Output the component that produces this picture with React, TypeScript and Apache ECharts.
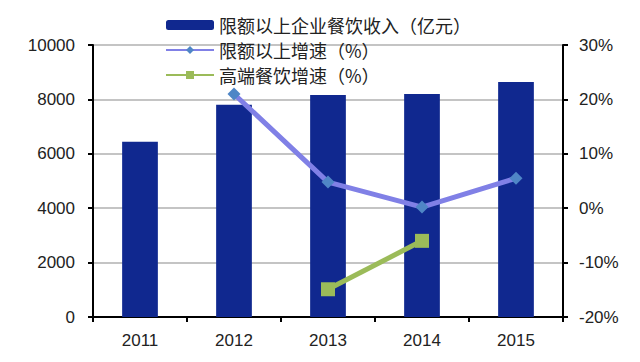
import React, { useEffect, useRef } from "react";
import * as echarts from "echarts";

const years = ["2011", "2012", "2013", "2014", "2015"];
const revenue = [6440, 7800, 8160, 8200, 8640];
const growthAbove = ["-", 21.0, 4.8, 0.2, 5.5];
const growthHighEnd = ["-", "-", -14.9, -6.0, "-"];
const leftTicks = [0, 2000, 4000, 6000, 8000, 10000];
const rightTicks = [-20, -10, 0, 10, 20, 30];

const seriesNames = [
  "限额以上企业餐饮收入（亿元）",
  "限额以上增速（%）",
  "高端餐饮增速（%）",
];

export default function App() {
  const ref = useRef<HTMLDivElement>(null);
  useEffect(() => {
    if (!ref.current) return;
    const chart = echarts.init(ref.current, undefined, { renderer: "svg" });
    const axisFont = { fontFamily: "Liberation Sans", fontSize: 17, color: "#222" };
    chart.setOption({
      animation: false,
      legend: {
        orient: "vertical",
        left: 160,
        top: 11,
        itemWidth: 48,
        itemHeight: 10,
        itemGap: 7,
        textStyle: {
          fontFamily: "Noto Sans CJK SC",
          fontSize: 18,
          color: "#222",
          lineHeight: 18,
          letterSpacing: 1.5,
        },
        data: seriesNames,
      },
      grid: { left: 93, right: 77, top: 45, bottom: 45 },
      xAxis: {
        type: "category",
        data: years,
        boundaryGap: true,
        axisLine: { lineStyle: { color: "#000", width: 2 } },
        axisTick: { show: true, length: 5, lineStyle: { color: "#000", width: 2 } },
        axisLabel: { ...axisFont, margin: 15 },
      },
      yAxis: [
        {
          type: "value",
          min: leftTicks[0],
          max: leftTicks[leftTicks.length - 1],
          interval: 2000,
          axisLine: { show: true, lineStyle: { color: "#000", width: 2 } },
          axisTick: { show: true, length: 5, lineStyle: { color: "#000", width: 2 } },
          axisLabel: { ...axisFont, margin: 18, formatter: (v: number) => String(v) },
          splitLine: { show: true, lineStyle: { color: "#c4c4c4", width: 2 } },
        },
        {
          type: "value",
          min: rightTicks[0],
          max: rightTicks[rightTicks.length - 1],
          interval: 10,
          position: "right",
          axisLine: { show: true, lineStyle: { color: "#000", width: 2 } },
          axisTick: { show: true, length: 5, lineStyle: { color: "#000", width: 2 } },
          axisLabel: { ...axisFont, margin: 16, formatter: "{value}%" },
          splitLine: { show: false },
        },
      ],
      series: [
        {
          name: seriesNames[0],
          type: "bar",
          data: revenue,
          barWidth: "38%",
          itemStyle: { color: "#10288f" },
        },
        {
          name: seriesNames[1],
          type: "line",
          yAxisIndex: 1,
          data: growthAbove,
          lineStyle: { color: "#8080e6", width: 5 },
          itemStyle: { color: "#4f86c6" },
          symbol: "diamond",
          symbolSize: 13,
          connectNulls: false,
        },
        {
          name: seriesNames[2],
          type: "line",
          yAxisIndex: 1,
          data: growthHighEnd,
          lineStyle: { color: "#9bbb59", width: 5 },
          itemStyle: { color: "#9bbb59" },
          symbol: "rect",
          symbolSize: 14,
        },
      ],
    });
    return () => chart.dispose();
  }, []);
  return <div ref={ref} style={{ width: 640, height: 362, position: "absolute", left: 0, top: 0, background: "#fff" }} />;
}
